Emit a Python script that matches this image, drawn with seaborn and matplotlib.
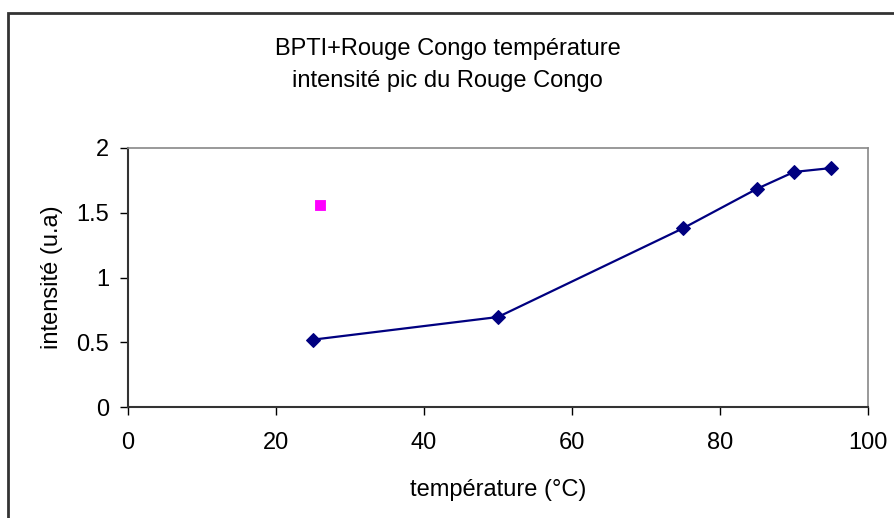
import matplotlib
matplotlib.use('Agg')
import matplotlib.pyplot as plt
import seaborn as sns
import pandas as pd
from matplotlib.patches import Rectangle

temperature = [25, 50, 75, 85, 90, 95]
intensite = [0.52, 0.695, 1.38, 1.685, 1.815, 1.845]
temp_isole = [26]
intensite_isole = [1.56]

df = pd.DataFrame({'temperature': temperature, 'intensite': intensite})
df_isole = pd.DataFrame({'temperature': temp_isole, 'intensite': intensite_isole})

sns.set_style('white')
plt.rcParams['font.family'] = ['Liberation Sans', 'DejaVu Sans']
plt.rcParams['text.color'] = 'black'
plt.rcParams['axes.labelcolor'] = 'black'
plt.rcParams['xtick.color'] = 'black'
plt.rcParams['ytick.color'] = 'black'

fig = plt.figure(figsize=(8.95, 5.18), dpi=100)
ax = fig.add_axes([128/895, 1 - 407/518, 740/895, 259/518])

sns.lineplot(data=df, x='temperature', y='intensite', ax=ax, color='#000080',
             linewidth=1.6, marker='D', markersize=7, markeredgecolor='#000080')
sns.scatterplot(data=df_isole, x='temperature', y='intensite', ax=ax, color='#ff00ff',
                marker='s', s=60, edgecolor='#ff00ff')

ax.set_xlim(0, 100)
ax.set_ylim(0, 2)
ax.set_xticks([0, 20, 40, 60, 80, 100])
ax.set_yticks([0, 0.5, 1, 1.5, 2])
ax.set_yticklabels(['0', '0.5', '1', '1.5', '2'])
ax.tick_params(direction='out', length=5.5, width=1, colors='black',
               labelsize=17, bottom=True, left=True)
ax.tick_params(axis='x', pad=12.5)
ax.tick_params(axis='y', pad=8)

for side in ['left', 'bottom']:
    ax.spines[side].set_color('#333333')
    ax.spines[side].set_linewidth(1.5)
for side in ['top', 'right']:
    ax.spines[side].set_color('#888888')
    ax.spines[side].set_linewidth(1.2)

ax.set_xlabel('température (°C)', fontsize=17, labelpad=18)
ax.set_ylabel('intensité (u.a)', fontsize=17, labelpad=10)

fig.text(0.5, 1 - 55/518, 'BPTI+Rouge Congo température', ha='center', va='baseline', fontsize=17)
fig.text(0.5, 1 - 87/518, 'intensité pic du Rouge Congo', ha='center', va='baseline', fontsize=17)

# cadre du graphique (bords gauche et haut visibles)
fig.add_artist(Rectangle((8/895, -0.1), 1.2, 1 - 13/518 + 0.1, transform=fig.transFigure,
                         fill=False, edgecolor='#333333', linewidth=2))

fig.savefig('out.png', dpi=100)
